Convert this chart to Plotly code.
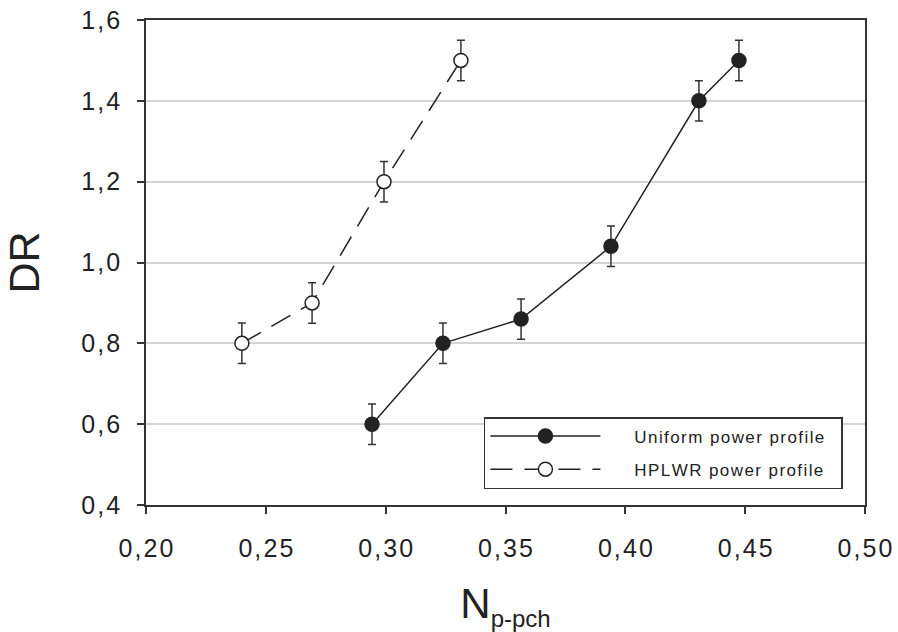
import plotly.graph_objects as go

# Data
uniform_x = [0.2943, 0.3239, 0.3565, 0.3940, 0.4307, 0.4474]
uniform_y = [0.60, 0.80, 0.86, 1.04, 1.40, 1.50]
uniform_err = [0.05, 0.05, 0.05, 0.05, 0.05, 0.05]

hplwr_x = [0.2400, 0.2693, 0.2993, 0.3314]
hplwr_y = [0.80, 0.90, 1.20, 1.50]
hplwr_err = [0.05, 0.05, 0.05, 0.05]

x_ticks = [0.20, 0.25, 0.30, 0.35, 0.40, 0.45, 0.50]
x_labels = ["0,20", "0,25", "0,30", "0,35", "0,40", "0,45", "0,50"]
y_ticks = [0.4, 0.6, 0.8, 1.0, 1.2, 1.4, 1.6]
y_labels = ["0,4", "0,6", "0,8", "1,0", "1,2", "1,4", "1,6"]

series_names = ["Uniform power profile", "HPLWR power profile"]

FONT = "Liberation Sans, Arial, sans-serif"
INK = "#222222"
HS = "\u200a"  # hair space, mimics the wide letter spacing of the original


def spaced(s):
    return HS.join(s)


def legend_label(s):
    return "\u2002\u2002\u2002\u2009" + spaced(s) + "\u2002\u2009"


fig = go.Figure()

fig.add_trace(go.Scatter(
    x=uniform_x, y=uniform_y, mode="lines+markers",
    name=legend_label(series_names[0]),
    legendgroup="u",
    line=dict(color=INK, width=1.5),
    marker=dict(symbol="circle", size=14, color=INK, line=dict(color=INK, width=1.5)),
    error_y=dict(type="data", array=uniform_err, visible=True, color="#333333", thickness=1.5, width=4),
))

fig.add_trace(go.Scatter(
    x=hplwr_x, y=hplwr_y, mode="lines+markers",
    name=legend_label(series_names[1]),
    legendgroup="h",
    line=dict(color=INK, width=1.5, dash="22px,12px"),
    marker=dict(symbol="circle", size=14, color="white", line=dict(color=INK, width=1.5)),
    error_y=dict(type="data", array=hplwr_err, visible=True, color="#333333", thickness=1.5, width=4),
))

fig.update_layout(
    width=898, height=632,
    margin=dict(l=146, r=33, t=20, b=127, autoexpand=False),
    paper_bgcolor="white", plot_bgcolor="white",
    font=dict(family=FONT, color=INK, size=20),
    showlegend=True,
    legend=dict(
        x=0.470, y=0.1814, xanchor="left", yanchor="top",
        bgcolor="white", bordercolor="#333333", borderwidth=1.5,
        font=dict(family=FONT, size=17, color=INK),
        itemwidth=110, tracegroupgap=8,
    ),
)

fig.update_xaxes(
    range=[0.20, 0.50], tickvals=x_ticks, ticktext=[spaced(t) for t in x_labels],
    showline=True, mirror=True, linecolor="#333333", linewidth=1.5,
    ticks="outside", ticklen=7, tickwidth=1.5, tickcolor="#333333",
    showgrid=False, zeroline=False, automargin=False,
    tickfont=dict(family=FONT, size=25, color=INK),
    ticklabelstandoff=13, ticklabeloverflow="allow",
    title=dict(text='N<sub><span style="font-size:24px">p-pch</span></sub>',
               font=dict(family=FONT, size=42, color=INK), standoff=45),
)

fig.update_yaxes(
    range=[0.4, 1.6], tickvals=y_ticks, ticktext=[spaced(t) for t in y_labels],
    showline=True, mirror=True, linecolor="#333333", linewidth=1.5,
    ticks="outside", ticklen=7, tickwidth=1.5, tickcolor="#333333",
    showgrid=True, gridcolor="#d4d4d4", gridwidth=1.5, zeroline=False, automargin=False,
    tickfont=dict(family=FONT, size=25, color=INK),
    ticklabelstandoff=12, ticklabeloverflow="allow",
    title=dict(text="DR", font=dict(family=FONT, size=43, color=INK), standoff=31),
)

# remove the browser's default 8px body margin so the 898x632 figure fills the window
fig.write_html("out.html", config={"displayModeBar": False},
               post_script="document.body.style.margin='0';")
